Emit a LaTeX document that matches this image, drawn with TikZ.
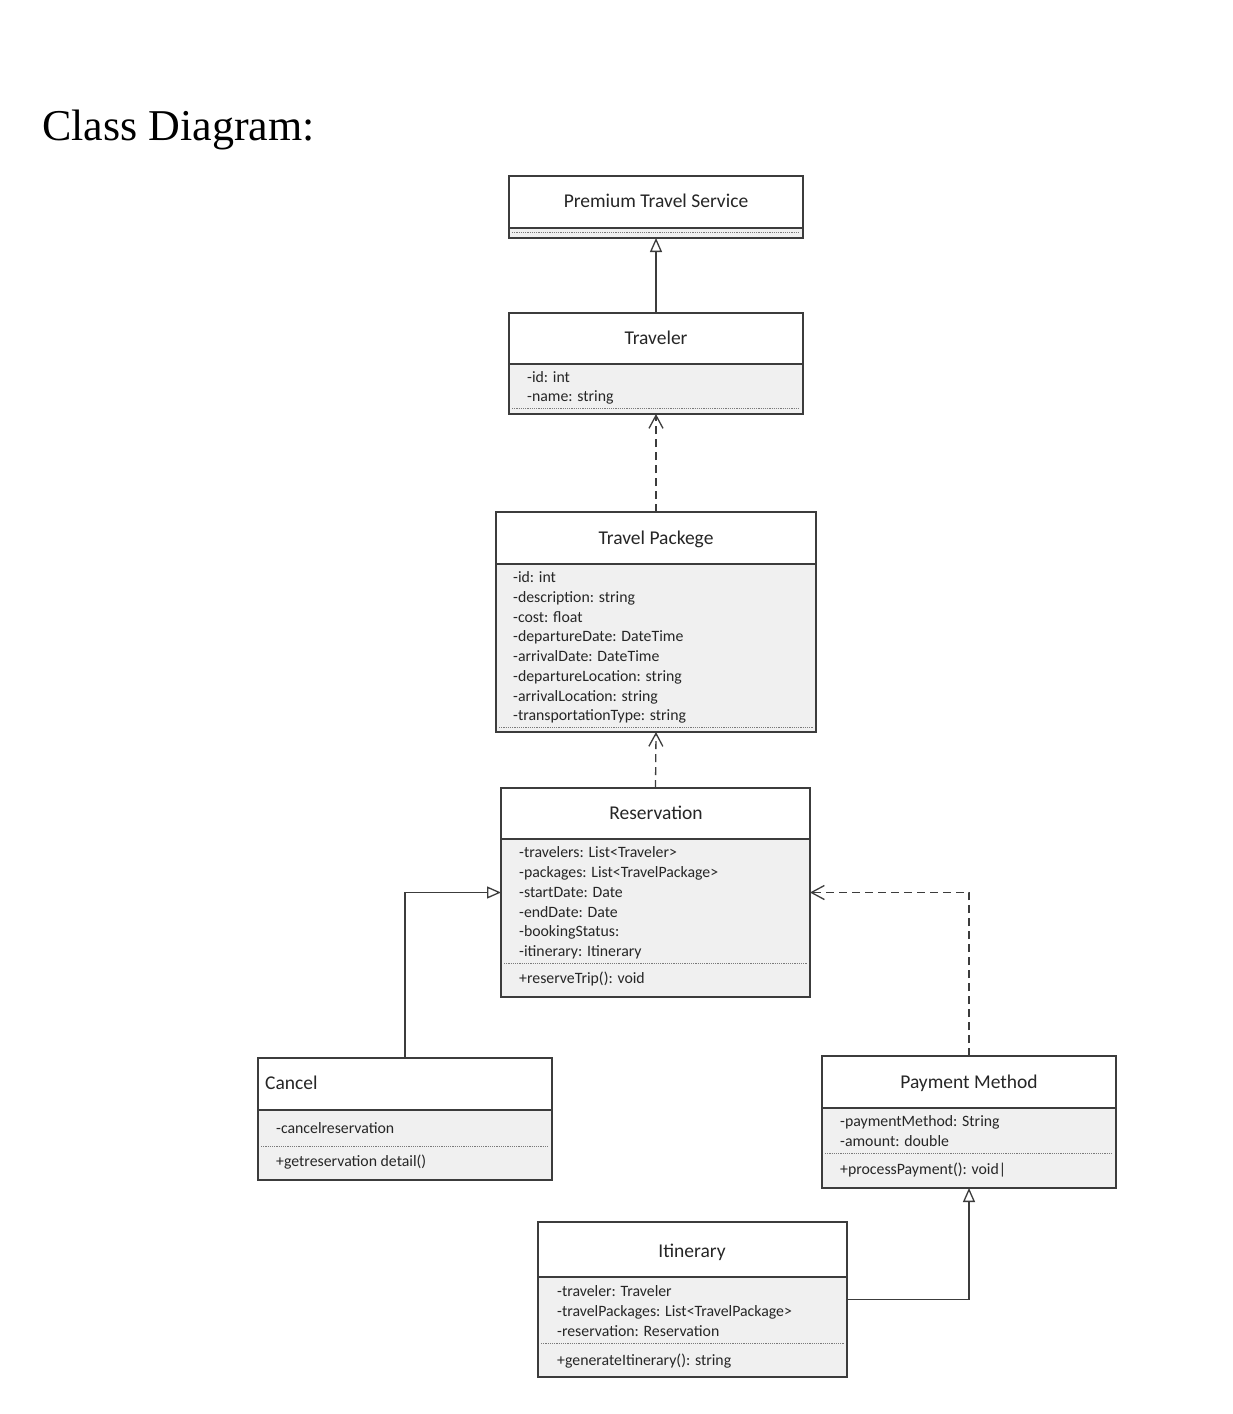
\documentclass[tikz,border=0pt]{standalone}
\usepackage{fontspec}
\setmainfont{Carlito}
\newfontfamily\headingfont{Liberation Serif}
\usetikzlibrary{arrows.meta}
\definecolor{linec}{HTML}{3C3C3C}
\definecolor{bodyc}{HTML}{F0F0F0}
\definecolor{dotc}{HTML}{7A7A7A}

% class box: name, x1, y1, x2, y2, y of header line
\newcommand\umlclass[6]{%
  \fill[bodyc] (#2,#6) rectangle (#4,#5);
  \node[umlbox, minimum width={#4pt-#2pt}, minimum height={#5pt-#3pt}] (#1) at (#2,#3) {};
  \draw[linec, line width=1.3pt] (#2,#6) -- (#4,#6);
}
% dotted separator: x1, x2, y
\newcommand\umlsep[3]{\draw[sepline] (#1+3,#3) -- (#2-3,#3);}

\begin{document}
\begin{tikzpicture}[x=1pt, y=-1pt,
  umlbox/.style={draw=linec, line width=1.3pt, anchor=north west, inner sep=0pt, outer sep=0pt},
  sepline/.style={dotc, line width=0.9pt, dash pattern=on 1.2pt off 1pt},
  classtitle/.style={font=\fontsize{19.5}{22}\selectfont, text=black!85, anchor=mid, inner sep=0pt, yshift=-4pt},
  member/.style={font=\fontsize{15.8}{18}\selectfont, text=black!85, anchor=mid west, inner sep=0pt, yshift=-3.5pt},
  conn/.style={linec, line width=1.3pt},
  dashconn/.style={linec, line width=1.3pt, dash pattern=on 8pt off 5pt},
  genhead/.style={-{Triangle[open, length=14pt, width=12pt, line width=1.3pt]}},
  dephead/.style={-{Straight Barb[length=13pt, width=14pt, line width=1.3pt]}}
]
\useasboundingbox[fill=white] (0,0) rectangle (1232,1414);

\node[font=\headingfont\fontsize{44}{48}\selectfont, anchor=base west, inner sep=0pt] (heading) at (42,140) {Class Diagram:};

% Premium Travel Service
\umlclass{pts}{509}{176}{803}{238}{228}
\umlsep{509}{803}{232}
\node[classtitle] (pts-t) at (656,201) {Premium Travel Service};

% Traveler
\umlclass{trav}{509}{313}{803}{414}{364}
\node[classtitle] (trav-t) at (656,338) {Traveler};
\node[member] (trav-a1) at (527,377) {-id: int};
\node[member] (trav-a2) at (527,396) {-name: string};
\umlsep{509}{803}{408}

% Travel Packege
\umlclass{tp}{496}{512}{816}{732}{564}
\node[classtitle] (tp-t) at (656,538) {Travel Packege};
\foreach \txt [count=\i from 0] in {{-id: int},{-description: string},{-cost: float},{-departureDate: DateTime},{-arrivalDate: DateTime},{-departureLocation: string},{-arrivalLocation: string},{-transportationType: string}}
  \node[member] (tp-a\i) at (513,577+19.7*\i) {\txt};
\umlsep{496}{816}{727}

% Reservation
\umlclass{res}{501}{788}{810}{997}{839}
\node[classtitle] (res-t) at (656,813) {Reservation};
\foreach \txt [count=\i from 0] in {{-travelers: List<Traveler>},{-packages: List<TravelPackage>},{-startDate: Date},{-endDate: Date},{-bookingStatus:},{-itinerary: Itinerary}}
  \node[member] (res-a\i) at (519,852+19.7*\i) {\txt};
\umlsep{501}{810}{963}
\node[member] (res-m1) at (519,978) {+reserveTrip(): void};

% Cancel
\umlclass{cancel}{258}{1058}{552}{1180}{1110}
\node[classtitle, anchor=mid west] (cancel-t) at (265,1083) {Cancel};
\node[member] (cancel-a1) at (276,1128) {-cancelreservation};
\umlsep{258}{552}{1146}
\node[member] (cancel-m1) at (276,1161) {+getreservation detail()};

% Payment Method
\umlclass{pay}{822}{1056}{1116}{1188}{1108}
\node[classtitle] (pay-t) at (969,1082) {Payment Method};
\node[member] (pay-a1) at (840,1121) {-paymentMethod: String};
\node[member] (pay-a2) at (840,1141) {-amount: double};
\umlsep{822}{1116}{1153}
\node[member] (pay-m1) at (840,1169) {+processPayment(): void|};

% Itinerary
\umlclass{itin}{538}{1222}{847}{1377}{1277}
\node[classtitle] (itin-t) at (692,1251) {Itinerary};
\node[member] (itin-a1) at (557,1291) {-traveler: Traveler};
\node[member] (itin-a2) at (557,1311) {-travelPackages: List<TravelPackage>};
\node[member] (itin-a3) at (557,1331) {-reservation: Reservation};
\umlsep{538}{847}{1343}
\node[member] (itin-m1) at (557,1360) {+generateItinerary(): string};

% relationships
\draw[conn, genhead] (trav.north) -- (pts.south);
\draw[dashconn, dephead] (tp.north) -- (trav.south);
\draw[dashconn, dephead] (res.north) -- (tp.south);
\draw[conn, genhead] (cancel.north) |- (res.west);
\draw[dashconn, dephead] (pay.north) |- (res.east);
\draw[conn, genhead] (itin.east) -| (pay.south);
\end{tikzpicture}
\end{document}
